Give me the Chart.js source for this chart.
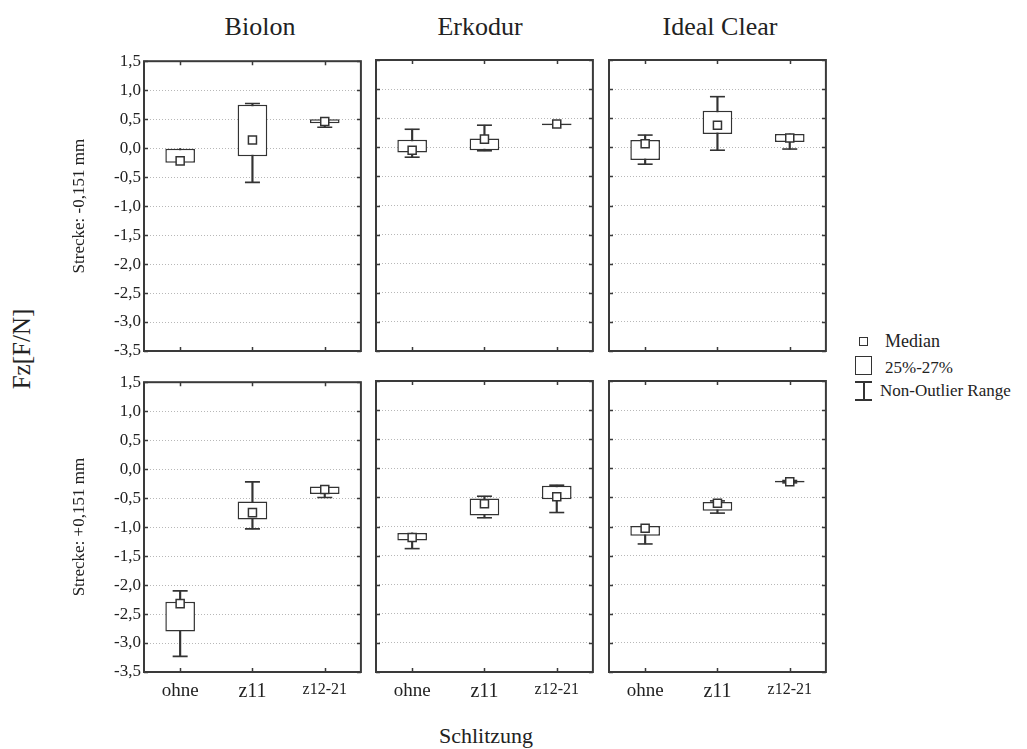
<!DOCTYPE html>
<html>
<head>
<meta charset="utf-8">
<script src="https://cdn.jsdelivr.net/npm/chart.js@4.4.1/dist/chart.umd.min.js"></script>
<style>
  body { margin: 0; background: #fff; }
  #wrap { position: relative; width: 1027px; height: 749px; overflow: hidden;
          font-family: 'Liberation Serif', 'DejaVu Serif', serif; color: #222; }
  #wrap canvas { position: absolute; }
  .lbl { position: absolute; white-space: nowrap; transform: translate(-50%, -50%); line-height: 1; }
  .leg { position: absolute; white-space: nowrap; line-height: 1; transform: translateY(-50%); }
  .ico { position: absolute; box-sizing: border-box; border: 1.5px solid #333; background: #fff; }
</style>
</head>
<body>
<div id="wrap">
  <div class="lbl" style="left:260px; top:27px; font-size:26px;">Biolon</div>
  <div class="lbl" style="left:480px; top:27px; font-size:26px;">Erkodur</div>
  <div class="lbl" style="left:720px; top:27px; font-size:26px;">Ideal Clear</div>
  <div class="lbl" style="left:21px; top:349px; font-size:25px; transform: translate(-50%, -50%) rotate(-90deg);">Fz[F/N]</div>
  <div class="lbl" style="left:486px; top:736px; font-size:22px;">Schlitzung</div>

  <!-- legend -->
  <div class="ico" style="left:859px; top:337px; width:9px; height:9px;"></div>
  <div class="leg" style="left:885px; top:341px; font-size:18px;">Median</div>
  <div class="ico" style="left:855px; top:356px; width:17px; height:19px;"></div>
  <div class="leg" style="left:885px; top:367px; font-size:17px;">25%-27%</div>
  <div style="position:absolute; left:855px; top:381px; width:17px; height:1.5px; background:#333;"></div>
  <div style="position:absolute; left:863px; top:381px; width:1.5px; height:19px; background:#333;"></div>
  <div style="position:absolute; left:855px; top:399px; width:17px; height:1.5px; background:#333;"></div>
  <div class="leg" style="left:880px; top:390px; font-size:17px;">Non-Outlier Range</div>
</div>

<script>
// categories and panels
const categories = ['ohne', 'z11', 'z12-21'];
const materials = ['Biolon', 'Erkodur', 'Ideal Clear'];
const rowLabels = ['Strecke: -0,151 mm', 'Strecke: +0,151 mm'];
const yMin = -3.5;
const yMax = 1.5;
const yStep = 0.5;

// Strecke: -0,151 mm  (one inner array per material: ohne, z11, z12-21)
const topMin    = [[-0.25, -0.59, 0.36], [-0.17, -0.06, 0.39], [-0.29, -0.05, -0.03]];
const topQ1     = [[-0.25, -0.14, 0.43], [-0.09, -0.05, 0.38], [-0.22,  0.23,  0.09]];
const topMedian = [[-0.22,  0.14, 0.46], [-0.05,  0.14, 0.40], [ 0.06,  0.38,  0.16]];
const topQ3     = [[ 0.00,  0.75, 0.50], [ 0.13,  0.15, 0.41], [ 0.125, 0.63,  0.23]];
const topMax    = [[ 0.00,  0.77, 0.50], [ 0.31,  0.38, 0.41], [ 0.21,  0.87,  0.23]];

// Strecke: +0,151 mm
const botMin    = [[-3.23, -1.03, -0.49], [-1.38, -0.85, -0.76], [-1.30, -0.77, -0.25]];
const botQ1     = [[-2.80, -0.87, -0.43], [-1.24, -0.81, -0.53], [-1.16, -0.73, -0.245]];
const botMedian = [[-2.32, -0.75, -0.35], [-1.19, -0.61, -0.49], [-1.03, -0.60, -0.23]];
const botQ3     = [[-2.29, -0.56, -0.30], [-1.11, -0.52, -0.30], [-0.99, -0.58, -0.215]];
const botMax    = [[-2.10, -0.22, -0.30], [-1.11, -0.48, -0.29], [-0.99, -0.56, -0.21]];

const SERIF = "'Liberation Serif', 'DejaVu Serif', serif";
Chart.defaults.font.family = SERIF;
Chart.defaults.color = '#222';

const INK = '#333';
const colLeft = [144, 376, 609];
const colRight = [362, 594, 827];
const rowTop = [60, 381];
const rowBottom = [351, 672];
const AXW = 75, PADT = 12, PADR = 8, XH = 30;

// frame around the plot + inward tick marks
const framePlugin = {
    id: 'frame',
    afterDatasetsDraw(chart) {
        const { ctx, chartArea: a, scales } = chart;
        ctx.save();
        ctx.strokeStyle = '#3a3a3a';
        ctx.lineWidth = 1.5;
        ctx.beginPath();
        scales.y.ticks.forEach(t => {
            const py = Math.round(scales.y.getPixelForValue(t.value)) + 0.5;
            ctx.moveTo(a.left, py); ctx.lineTo(a.left + 4, py);
            ctx.moveTo(a.right - 4, py); ctx.lineTo(a.right, py);
        });
        categories.forEach((c, i) => {
            const px = Math.round(scales.x.getPixelForTick(i)) + 0.5;
            ctx.moveTo(px, a.top); ctx.lineTo(px, a.top + 4);
            ctx.moveTo(px, a.bottom - 4); ctx.lineTo(px, a.bottom);
        });
        ctx.stroke();
        ctx.lineWidth = 2;
        ctx.strokeRect(a.left, a.top, a.right - a.left, a.bottom - a.top);
        ctx.restore();
    }
};

const fmt = v => v.toFixed(1).replace('.', ',');

function makePanel(row, col) {
    const mins = (row === 0 ? topMin : botMin)[col];
    const q1 = (row === 0 ? topQ1 : botQ1)[col];
    const med = (row === 0 ? topMedian : botMedian)[col];
    const q3 = (row === 0 ? topQ3 : botQ3)[col];
    const maxs = (row === 0 ? topMax : botMax)[col];

    const canvas = document.createElement('canvas');
    const w = colRight[col] - colLeft[col] + AXW + PADR;
    const h = rowBottom[row] - rowTop[row] + PADT + XH;
    canvas.width = w;
    canvas.height = h;
    canvas.style.left = (colLeft[col] - AXW) + 'px';
    canvas.style.top = (rowTop[row] - PADT) + 'px';
    canvas.style.width = w + 'px';
    canvas.style.height = h + 'px';
    document.getElementById('wrap').appendChild(canvas);

    new Chart(canvas, {
        type: 'bar',
        data: {
            labels: categories,
            datasets: [
                {   // median
                    type: 'line',
                    data: med,
                    showLine: false,
                    pointStyle: 'rect',
                    pointRadius: 5.7,
                    pointBackgroundColor: '#fff',
                    pointBorderColor: INK,
                    pointBorderWidth: 1.5,
                    order: 1
                },
                {   // whisker caps (lower)
                    type: 'line',
                    data: mins.map((v, i) => v < q1[i] ? v : null),
                    showLine: false,
                    pointStyle: 'line',
                    pointRadius: 7.5,
                    pointBorderColor: INK,
                    pointBorderWidth: 1.6,
                    order: 2
                },
                {   // whisker caps (upper)
                    type: 'line',
                    data: maxs.map((v, i) => v > q3[i] ? v : null),
                    showLine: false,
                    pointStyle: 'line',
                    pointRadius: 7.5,
                    pointBorderColor: INK,
                    pointBorderWidth: 1.6,
                    order: 2
                },
                {   // box 25%-75%
                    data: q1.map((v, i) => [v, q3[i]]),
                    backgroundColor: '#fff',
                    borderColor: INK,
                    borderWidth: 1.5,
                    borderSkipped: false,
                    grouped: false,
                    categoryPercentage: 1,
                    barPercentage: 0.41,
                    order: 3
                },
                {   // whisker stem
                    data: mins.map((v, i) => [v, maxs[i]]),
                    backgroundColor: INK,
                    borderWidth: 0,
                    grouped: false,
                    barThickness: 1.5,
                    order: 4
                }
            ]
        },
        options: {
            responsive: false,
            animation: false,
            events: [],
            layout: { padding: { top: PADT, right: PADR, left: 0, bottom: 0 } },
            plugins: { legend: { display: false }, tooltip: { enabled: false } },
            scales: {
                x: {
                    offset: true,
                    grid: { display: false },
                    border: { display: false },
                    ticks: {
                        display: row === 1,
                        padding: 0,
                        color: '#222',
                        font: c => ({ family: SERIF, size: c.index === 2 ? 16 : (c.index === 1 ? 20 : 19) })
                    },
                    afterFit: s => { s.height = XH; }
                },
                y: {
                    min: yMin,
                    max: yMax,
                    grid: { color: '#b8b8b8', lineWidth: 1, drawTicks: false },
                    border: { display: false, dash: [1, 2] },
                    ticks: {
                        display: col === 0,
                        stepSize: yStep,
                        padding: 3,
                        color: '#222',
                        font: { family: SERIF, size: 17 },
                        callback: v => fmt(v)
                    },
                    title: {
                        display: col === 0,
                        text: rowLabels[row],
                        color: '#222',
                        font: { family: SERIF, size: 17 },
                        padding: { top: 0, bottom: 0 }
                    },
                    afterFit: s => { s.width = AXW; }
                }
            }
        },
        plugins: [framePlugin]
    });
}

[0, 1].forEach(r => [0, 1, 2].forEach(c => makePanel(r, c)));
</script>
</body>
</html>
